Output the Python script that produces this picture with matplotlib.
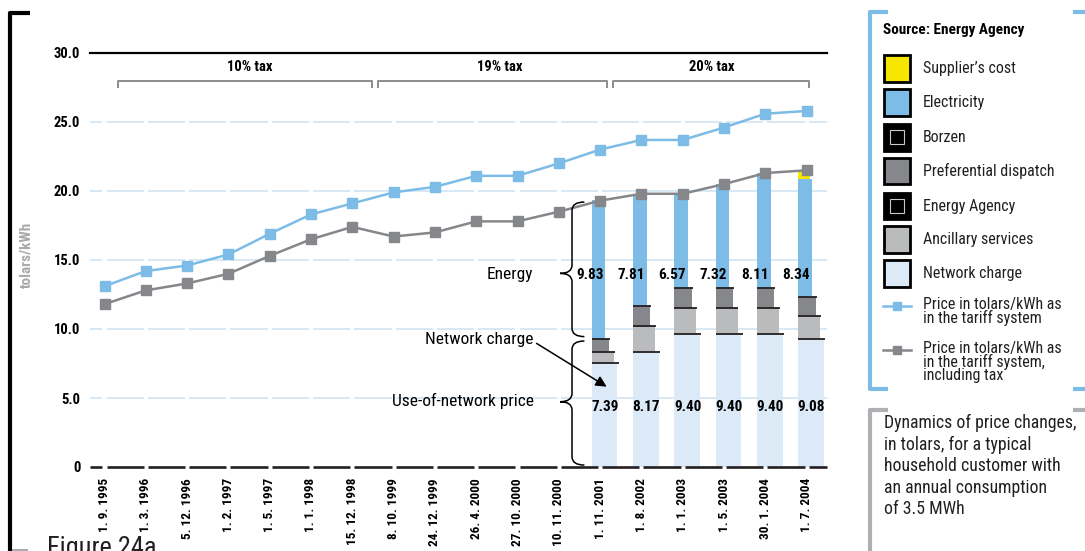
import matplotlib
matplotlib.use('Agg')
import matplotlib.pyplot as plt
from matplotlib import font_manager
from matplotlib.lines import Line2D
from matplotlib.patches import Rectangle, PathPatch
from matplotlib.path import Path

W, H = 1085, 551

# ---------------- data ----------------
dates = ["1. 9. 1995", "1. 3. 1996", "5. 12. 1996", "1. 2. 1997", "1. 5. 1997",
         "1. 1. 1998", "15. 12. 1998", "8. 10. 1999", "24. 12. 1999", "26. 4. 2000",
         "27. 10. 2000", "10. 11. 2000", "1. 11. 2001", "1. 8. 2002", "1. 1. 2003",
         "1. 5. 2003", "30. 1. 2004", "1. 7. 2004"]
price = [13.1, 14.2, 14.6, 15.4, 16.9, 18.3, 19.1, 19.9, 20.3, 21.1, 21.1, 22.0,
         23.0, 23.7, 23.7, 24.6, 25.6, 25.8]
price_tax = [11.8, 12.8, 13.3, 14.0, 15.3, 16.5, 17.4, 16.7, 17.0, 17.8, 17.8, 18.5,
             19.3, 19.8, 19.8, 20.5, 21.3, 21.5]

bar_dates = ["1. 11. 2001", "1. 8. 2002", "1. 1. 2003", "1. 5. 2003", "30. 1. 2004", "1. 7. 2004"]
network = [7.56, 8.33, 9.61, 9.61, 9.61, 9.30]
ancillary = [0.74, 1.89, 1.89, 1.89, 1.89, 1.62]
preferential = [0.95, 1.45, 1.47, 1.47, 1.47, 1.38]
electricity = [10.10, 8.03, 6.73, 7.53, 8.31, 8.55]
supplier = [0.0, 0.0, 0.0, 0.0, 0.0, 0.60]
energy_labels = ["9.83", "7.81", "6.57", "7.32", "8.11", "8.34"]
network_labels = ["7.39", "8.17", "9.40", "9.40", "9.40", "9.08"]

tax_labels = ["10% tax", "19% tax", "20% tax"]
yticks = [0, 5, 10, 15, 20, 25, 30]
ytick_labels = ["0", "5.0", "10.0", "15.0", "20.0", "25.0", "30.0"]

legend_labels = ["Supplier\u2019s cost", "Electricity", "Borzen", "Preferential dispatch",
                 "Energy Agency", "Ancillary services", "Network charge"]
line_labels = ["Price in tolars/kWh as\nin the tariff system",
               "Price in tolars/kWh as\nin the tariff system,\nincluding tax"]

# ---------------- style ----------------
C_BLUE = '#7dbce6'
C_PREF = '#85878b'
C_ANC = '#b9bbbd'
C_NET = '#dce9f6'
C_YEL = '#f7e600'
C_GRID = '#d2e4f4'
C_LGRAY = '#85878a'

avail = {f.name for f in font_manager.fontManager.ttflist}
FONT = next((f for f in ['Liberation Sans Narrow', 'Roboto Condensed', 'DejaVu Sans Condensed',
                         'Open Sans Condensed'] if f in avail), 'Liberation Sans')
plt.rcParams['font.family'] = [FONT, 'DejaVu Sans']

fig = plt.figure(figsize=(W / 100, H / 100), dpi=100)


def fx(x):
    return x / W


def fy(y):
    return 1 - y / H


# axes: category i at pixel 104.5 + 41.3*i, y=0 at px 467, y=30 at px 53
ax = fig.add_axes([fx(90), fy(467), (827 - 90) / W, (467 - 53) / H])
XMIN, XMAX = (90 - 104.5) / 41.3, (827 - 104.5) / 41.3
ax.set_xlim(XMIN, XMAX)
ax.set_ylim(0, 30)
for s in ax.spines.values():
    s.set_visible(False)
ax.patch.set_alpha(0)

xs = list(range(len(dates)))
ax.set_xticks(xs)
ax.set_xticklabels(dates, rotation=90, fontsize=9.5, fontweight='bold', va='top')
ax.set_yticks(yticks)
ax.set_yticklabels(ytick_labels, fontsize=10.5, fontweight='bold')
ax.tick_params(axis='both', length=0)
ax.tick_params(axis='y', pad=7)
ax.tick_params(axis='x', pad=8)


def segmented_hline(y, color, lw, z):
    for i in range(-1, len(dates) + 1):
        a, b = max(i + 0.05, XMIN), min(i + 0.95, XMAX)
        if b > a:
            ax.plot([a, b], [y, y], color=color, lw=lw, solid_capstyle='butt', zorder=z,
                    clip_on=False)


for yv in yticks[1:-1]:
    segmented_hline(yv, C_GRID, 1.2, 1)
segmented_hline(0, '#231f20', 1.9, 6)
ax.plot([XMIN, XMAX], [30, 30], color='black', lw=1.6, zorder=6, clip_on=False)

# tax brackets
brackets = [(0.32, 6.47, 3.52), (6.62, 12.17, 9.58), (12.31, 17.06, 14.7)]
for (a, b, c), lab in zip(brackets, tax_labels):
    ax.plot([a, a, b, b], [27.5, 28.0, 28.0, 27.5], color='#8a8c8f', lw=1.4, zorder=3,
            clip_on=False)
    ax.text(c, 28.95, lab, ha='center', va='center', fontsize=10.5, fontweight='bold')

# stacked bars
bx = [dates.index(d) for d in bar_dates]
left = [x - 0.2 for x in bx]
b1 = network
b2 = [a + b for a, b in zip(b1, ancillary)]
b3 = [a + b for a, b in zip(b2, preferential)]
b4 = [a + b for a, b in zip(b3, electricity)]
ax.bar(left, network, width=0.62, align='edge', color=C_NET, zorder=2)
ax.bar(left, ancillary, bottom=b1, width=0.53, align='edge', color=C_ANC, zorder=2)
ax.bar(left, preferential, bottom=b2, width=0.42, align='edge', color=C_PREF, zorder=2)
ax.bar(left, electricity, bottom=b3, width=0.33, align='edge', color=C_BLUE, zorder=2)
ax.bar(left, supplier, bottom=b4, width=0.29, align='edge', color=C_YEL, zorder=2)
for i, l in enumerate(left):
    ax.plot([l, l + 0.65], [b1[i], b1[i]], color='#231f20', lw=1.3, zorder=3,
            solid_capstyle='butt')
    ax.plot([l, l + 0.55], [b2[i], b2[i]], color='#231f20', lw=1.3, zorder=3,
            solid_capstyle='butt')
    ax.plot([l, l + 0.44], [b3[i], b3[i]], color='#231f20', lw=1.3, zorder=3,
            solid_capstyle='butt')
    ax.text(bx[i] - 0.25, 13.9, energy_labels[i], ha='center', va='center',
            fontsize=11, fontweight='bold', zorder=7)
    ax.text(bx[i] + 0.12, 4.37, network_labels[i], ha='center', va='center',
            fontsize=11, fontweight='bold', zorder=7)

# lines
ax.plot(xs, price, color=C_BLUE, lw=1.8, marker='s', ms=6.5, zorder=5)
ax.plot(xs, price_tax, color=C_LGRAY, lw=1.8, marker='s', ms=6.5, zorder=5)


# braces and annotations
def brace(y_top, y_bot, y_tip, x_tip=11.03, x_sp=11.32, x_end=11.62, r=0.6):
    verts = [(x_end, y_top), (x_sp, y_top), (x_sp, y_top - r),
             (x_sp, y_tip + r), (x_sp, y_tip), (x_tip, y_tip),
             (x_sp, y_tip), (x_sp, y_tip - r),
             (x_sp, y_bot + r), (x_sp, y_bot), (x_end, y_bot)]
    codes = [Path.MOVETO, Path.CURVE3, Path.CURVE3, Path.LINETO, Path.CURVE3, Path.CURVE3,
             Path.CURVE3, Path.CURVE3, Path.LINETO, Path.CURVE3, Path.CURVE3]
    ax.add_patch(PathPatch(Path(verts, codes), fc='none', ec='black', lw=1.1, zorder=7,
                           clip_on=False))


brace(19.2, 9.45, 14.03)
brace(9.13, 0.14, 4.73)
ax.text(10.38, 13.95, "Energy", ha='right', va='center', fontsize=12.5)
ax.text(10.38, 9.25, "Network charge", ha='right', va='center', fontsize=12.5)
ax.text(10.4, 4.78, "Use-of-network price", ha='right', va='center', fontsize=12.5)
ax.annotate('', xy=(12.16, 5.82), xytext=(10.46, 8.96),
            arrowprops=dict(arrowstyle='-|>', color='black', lw=1.1, mutation_scale=16,
                            shrinkA=0, shrinkB=0), zorder=8)
ax.text(-1.88, 15.4, "tolars/kWh", rotation=90, ha='center', va='center', fontsize=11,
        fontweight='bold', color='#a7a9ac')


# ---------------- figure decorations ----------------
def fline(xp, yp, color, lw):
    fig.add_artist(Line2D([fx(x) for x in xp], [fy(y) for y in yp], color=color, lw=lw,
                          solid_capstyle='butt', transform=fig.transFigure))


# left black bracket
fline([10.3, 10.3, 30], [551, 13, 13], 'black', 3.0)
fline([12, 28], [549.5, 549.5], '#9a9c9f', 1.2)
fig.text(fx(47), fy(536), "Figure 24a", fontsize=19, va='top', ha='left', color='#231f20')

# legend bracket (blue)
fline([888, 870, 870, 888], [12, 12, 388.5, 388.5], C_BLUE, 3.0)
fline([1073, 1085], [12, 12], C_BLUE, 3.0)
fline([1073, 1085], [388.5, 388.5], C_BLUE, 3.0)
# description bracket (gray)
fline([888, 870, 870], [409.5, 409.5, 551], '#aeb0b3', 3.0)
fline([1073, 1085], [409.5, 409.5], '#aeb0b3', 3.0)

fig.text(fx(883), fy(30), "Source: Energy Agency", fontsize=11, fontweight='bold',
         va='center', ha='left')

legend_colors = [C_YEL, C_BLUE, 'black', C_PREF, 'black', C_ANC, C_NET]
rows = [68.5, 102.7, 137.3, 171.2, 206.0, 239.7, 273.3]
for lab, col, yc in zip(legend_labels, legend_colors, rows):
    x0, s = 883.5, 26.5
    fig.add_artist(Rectangle((fx(x0), fy(yc + s / 2)), s / W, s / H, fc=col, ec='black',
                             lw=2.0, transform=fig.transFigure))
    if lab in ("Borzen", "Energy Agency"):
        si = 14
        fig.add_artist(Rectangle((fx(x0 + (s - si) / 2), fy(yc + si / 2)), si / W, si / H,
                                 fc='black', ec='#c8c8c8', lw=0.8,
                                 transform=fig.transFigure))
    fig.text(fx(923), fy(yc), lab, fontsize=11.5, va='center', ha='left', color='#231f20')

for lab, col, yc in zip(line_labels, [C_BLUE, C_LGRAY], [306, 350]):
    fig.add_artist(Line2D([fx(883), fx(911)], [fy(yc), fy(yc)], color=col, lw=1.8,
                          transform=fig.transFigure))
    fig.add_artist(Line2D([fx(897)], [fy(yc)], color=col, marker='s', ms=5.5, lw=0,
                          transform=fig.transFigure))
    fig.text(fx(923), fy(yc - 8.5), lab, fontsize=11.5, va='top', ha='left',
             linespacing=0.82, color='#231f20')

fig.text(fx(884), fy(414), "Dynamics of price changes,\nin tolars, for a typical\n"
         "household customer with\nan annual consumption\nof 3.5 MWh",
         fontsize=12.8, va='top', ha='left', linespacing=1.25, color='#231f20')

fig.savefig('out.png', dpi=100)
